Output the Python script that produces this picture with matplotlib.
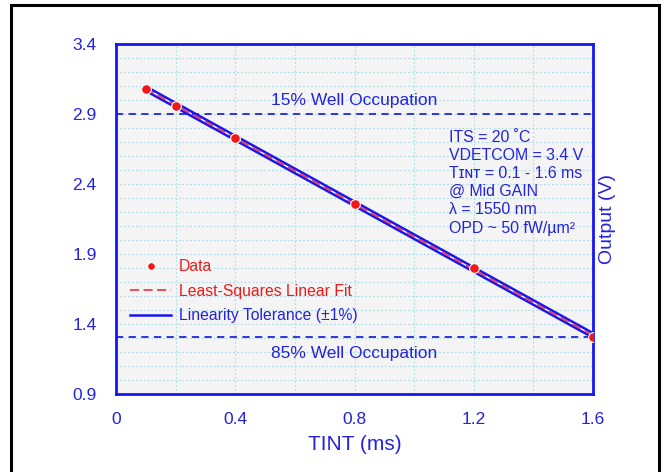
import numpy as np
import matplotlib.pyplot as plt
from matplotlib.patches import Rectangle

# data
tint_ms = [0.1, 0.2, 0.4, 0.8, 1.2, 1.6]
output_v = [3.08, 2.96, 2.73, 2.26, 1.80, 1.31]
well_15 = 2.9
well_85 = 1.31
band_half = 0.016  # drawn width of the +/-1% tolerance band (V)

x_ticks = [0, 0.4, 0.8, 1.2, 1.6]
y_ticks = [0.9, 1.4, 1.9, 2.4, 2.9, 3.4]

info_lines = [
    "ITS = 20 ˚C",
    "VDETCOM = 3.4 V",
    "Tɪɴᴛ = 0.1 - 1.6 ms",
    "@ Mid GAIN",
    "λ = 1550 nm",
    "OPD ~ 50 fW/µm²",
]

blue = "#2323dc"
spine_blue = "#1616f0"
red = "#f01818"
grid_c = "#a9dbe6"

plt.rcParams["font.family"] = ["Liberation Sans", "DejaVu Sans"]

fig = plt.figure(figsize=(6.64, 4.72), dpi=100)
fig.patches.append(Rectangle((11 / 664, -0.05), 648 / 664, 1 - 5 / 472 + 0.05,
                             transform=fig.transFigure, fill=False,
                             edgecolor="black", linewidth=2.2))

ax = fig.add_axes([116 / 664, 1 - 394 / 472, 477 / 664, 350 / 472])
ax.set_facecolor("#f4f4f4")

# fit and tolerance band
x = np.array(tint_ms)
slope, icpt = np.polyfit(x, output_v, 1)
xf = np.array([x.min(), x.max()])
fit = slope * xf + icpt
ax.fill_between(xf, fit - band_half, fit + band_half, color="white", zorder=2)
ax.plot(xf, fit + band_half, color=spine_blue, lw=1.8, zorder=3)
ax.plot(xf, fit - band_half, color=spine_blue, lw=1.8, zorder=3,
        label="Linearity Tolerance (±1%)")
ax.plot(xf, fit, color="#f03c50", lw=1.3, ls=(0, (5, 2.5)), zorder=4,
        label="Least-Squares Linear Fit")
ax.plot(x, output_v, "o", color=red, ms=7, mec="white", mew=0.8, zorder=5,
        label="Data")

ax.axhline(well_15, color=blue, lw=1.3, ls=(0, (4, 3)), zorder=2)
ax.axhline(well_85, color=blue, lw=1.3, ls=(0, (4, 3)), zorder=2)
ax.text(0.8, well_15 + 0.1, "15% Well Occupation", color=blue,
        fontsize=12.5, ha="center", va="center")
ax.text(0.8, well_85 - 0.12, "85% Well Occupation", color=blue,
        fontsize=12.5, ha="center", va="center")

for i, line in enumerate(info_lines):
    ax.text(333 / 477, (394 - 137 - i * 18.2) / 350, line, color=blue,
            fontsize=11.4, ha="left", va="center", transform=ax.transAxes)

ax.set_xlim(0, 1.6)
ax.set_ylim(0.9, 3.4)
ax.set_xticks(x_ticks)
ax.set_xticklabels([f"{v:g}" for v in x_ticks])
ax.set_yticks(y_ticks)
ax.set_xticks(np.arange(0, 1.61, 0.2), minor=True)
ax.set_yticks(np.arange(0.9, 3.41, 0.1), minor=True)
ax.grid(which="both", color=grid_c, lw=0.8, ls=(0, (1.5, 2)), zorder=0)
ax.set_axisbelow(True)
ax.tick_params(which="both", length=0, labelcolor=blue, labelsize=12.5)
ax.tick_params(axis="x", pad=13)
ax.tick_params(axis="y", pad=14)
for s in ax.spines.values():
    s.set_color(spine_blue)
    s.set_linewidth(2)

ax.set_xlabel("TINT (ms)", color=blue, fontsize=15, labelpad=6)
ax.yaxis.set_label_position("right")
ax.set_ylabel("Output (V)", color=blue, fontsize=14, labelpad=4)

h, l = ax.get_legend_handles_labels()
order = [2, 1, 0]
leg = ax.legend([h[i] for i in order], [l[i] for i in order],
                loc="upper left", bbox_to_anchor=(0.0, 0.425), frameon=False,
                fontsize=11.3, handlelength=2.6, handletextpad=0.5,
                labelspacing=0.6, markerscale=0.8)
for t, c in zip(leg.get_texts(), [red, red, blue]):
    t.set_color(c)

fig.savefig("out.png", dpi=100)
